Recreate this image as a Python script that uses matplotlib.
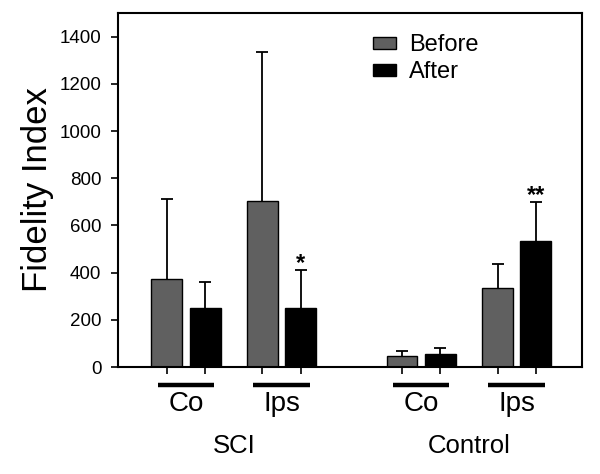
import matplotlib.pyplot as plt
import numpy as np

plt.rcParams['font.family'] = ['Liberation Sans', 'DejaVu Sans']

# values
groups = ['SCI', 'Control']
sides = ['Co', 'Ips', 'Co', 'Ips']
before = [372, 704, 47, 334]
before_err = [341, 631, 21, 102]
after = [249, 249, 56, 532]
after_err = [112, 161, 25, 167]
stars = ['', '*', '', '**']

# bar positions (units of one bar spacing)
pair_pos = np.array([0.0, 2.5, 6.15, 8.65])
w = 0.81

fig = plt.figure(figsize=(6, 4.74), dpi=100)
ax = fig.add_axes([118 / 600, 107 / 474, 464 / 600, 354 / 474])

xb = pair_pos
xa = pair_pos + 1.0
ax.bar(xb, before, w, color='#606060', edgecolor='black', linewidth=1, label='Before', zorder=2)
ax.bar(xa, after, w, color='black', edgecolor='black', linewidth=1, label='After', zorder=2)
for x, v, e in [(xb, before, before_err), (xa, after, after_err)]:
    eb = ax.errorbar(x, v, yerr=[np.zeros(4), e], fmt='none', ecolor='black',
                     elinewidth=1.3, capsize=4.5, capthick=1.3, zorder=1)
    # only the upper cap is drawn
    eb[1][0].set_visible(False)

for x, v, e, s in zip(xa, after, after_err, stars):
    if s:
        ax.text(x, v + e - 22, s, ha='center', va='bottom', fontsize=17, fontweight='bold')

ax.set_xlim(-1.28, 10.86)
ax.set_ylim(0, 1500)
ax.set_yticks(np.arange(0, 1401, 200))
ax.set_xticks(np.concatenate([xb, xa]))
ax.set_xticklabels([])
ax.tick_params(axis='both', direction='out', length=5, width=1.2, labelsize=13.5, pad=7)
for sp in ax.spines.values():
    sp.set_linewidth(1.5)

ax.set_ylabel('Fidelity Index', fontsize=25, labelpad=4)

trans = ax.get_xaxis_transform()
for x, s in zip(pair_pos, sides):
    ax.plot([x - 0.24, x + 1.24], [-0.051, -0.051], color='black', lw=3.2,
            transform=trans, clip_on=False, solid_capstyle='butt')
    ax.text(x + 0.5, -0.068, s, ha='center', va='top', fontsize=20, transform=trans)
for i, g in enumerate(groups):
    gx = (pair_pos[2 * i] + pair_pos[2 * i + 1] + 1) / 2
    ax.text(gx, -0.19, g, ha='center', va='top', fontsize=18.5, transform=trans)

ax.legend(loc='upper left', bbox_to_anchor=(0.503, 1.0), frameon=False, fontsize=17,
          handlelength=1.0, handleheight=0.42, handletextpad=0.55, labelspacing=0.22)

fig.savefig('out.png', dpi=100)
